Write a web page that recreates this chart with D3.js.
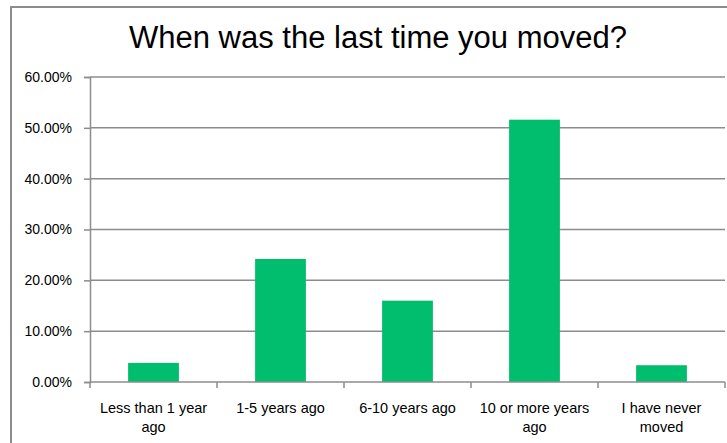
<!DOCTYPE html>
<html lang="en">
<head>
    <meta charset="UTF-8">
    <title>When was the last time you moved?</title>
    <script src="https://d3js.org/d3.v7.min.js"></script>
    <style>
        body {
            margin: 0;
            padding: 0;
            background-color: #ffffff;
            font-family: Arial, "Liberation Sans", sans-serif;
        }
        svg { display: block; }
    </style>
</head>
<body>
    <div id="chart"></div>

    <script>
        // chart data
        const categories = ["Less than 1 year ago", "1-5 years ago", "6-10 years ago", "10 or more years ago", "I have never moved"];
        const labelLines = [["Less than 1 year", "ago"], ["1-5 years ago"], ["6-10 years ago"], ["10 or more years", "ago"], ["I have never", "moved"]];
        const values = [0.0375, 0.242, 0.160, 0.516, 0.033];
        const yTicks = [0, 0.1, 0.2, 0.3, 0.4, 0.5, 0.6];

        const width = 727, height = 443;
        const margin = { top: 77, right: 2, bottom: 61, left: 90 };

        const svg = d3.select("#chart")
            .append("svg")
            .attr("width", width)
            .attr("height", height);

        // outer frame (cut off at right and bottom like the original)
        svg.append("rect")
            .attr("x", 11)
            .attr("y", 7)
            .attr("width", width + 20)
            .attr("height", height + 20)
            .attr("fill", "none")
            .attr("stroke", "#8c8c8c")
            .attr("stroke-width", 2);

        svg.append("text")
            .attr("x", 378)
            .attr("y", 48)
            .attr("text-anchor", "middle")
            .attr("font-size", "31px")
            .attr("fill", "#000")
            .text("When was the last time you moved?");

        const x = d3.scaleBand()
            .domain(categories)
            .range([margin.left, width - margin.right])
            .paddingInner(0.6)
            .paddingOuter(0.3);

        const y = d3.scaleLinear()
            .domain([0, 0.6])
            .range([height - margin.bottom, margin.top]);

        // gridlines
        svg.append("g")
            .selectAll("line")
            .data(yTicks.slice(1))
            .enter().append("line")
            .attr("x1", margin.left)
            .attr("x2", width - margin.right)
            .attr("y1", d => y(d))
            .attr("y2", d => y(d))
            .attr("stroke", "#8c8c8c")
            .attr("stroke-width", 1.5);

        // bars
        svg.append("g")
            .selectAll("rect")
            .data(values)
            .enter().append("rect")
            .attr("x", (d, i) => x(categories[i]))
            .attr("y", d => y(d))
            .attr("width", x.bandwidth())
            .attr("height", d => y(0) - y(d))
            .attr("fill", "#00be6e");

        // y axis
        const yAxis = svg.append("g")
            .attr("transform", `translate(${margin.left},0)`)
            .call(d3.axisLeft(y).tickValues(yTicks).tickSize(6).tickPadding(12)
                .tickFormat(d => (d * 100).toFixed(2) + "%"));
        yAxis.selectAll("path, line").attr("stroke", "#8c8c8c").attr("stroke-width", 1.5);
        yAxis.selectAll("text")
            .attr("font-family", "Arial, 'Liberation Sans', sans-serif")
            .attr("font-size", "14px")
            .attr("fill", "#000");

        // x axis with ticks at band edges
        const step = x.step();
        const edges = d3.range(categories.length + 1).map(i => margin.left + i * step);
        const xAxis = svg.append("g");
        xAxis.append("line")
            .attr("x1", margin.left)
            .attr("x2", width - margin.right)
            .attr("y1", y(0))
            .attr("y2", y(0))
            .attr("stroke", "#8c8c8c")
            .attr("stroke-width", 1.5);
        xAxis.selectAll(".tick")
            .data(edges)
            .enter().append("line")
            .attr("x1", d => d)
            .attr("x2", d => d)
            .attr("y1", y(0))
            .attr("y2", y(0) + 6)
            .attr("stroke", "#8c8c8c")
            .attr("stroke-width", 1.5);

        const labels = svg.append("g")
            .selectAll("text")
            .data(labelLines)
            .enter().append("text")
            .attr("text-anchor", "middle")
            .attr("font-size", "14.5px")
            .attr("fill", "#000")
            .attr("transform", (d, i) => `translate(${x(categories[i]) + x.bandwidth() / 2},${y(0) + 31})`);
        labels.selectAll("tspan")
            .data(d => d)
            .enter().append("tspan")
            .attr("x", 0)
            .attr("y", (d, j) => j * 19)
            .text(d => d);
    </script>
</body>
</html>
